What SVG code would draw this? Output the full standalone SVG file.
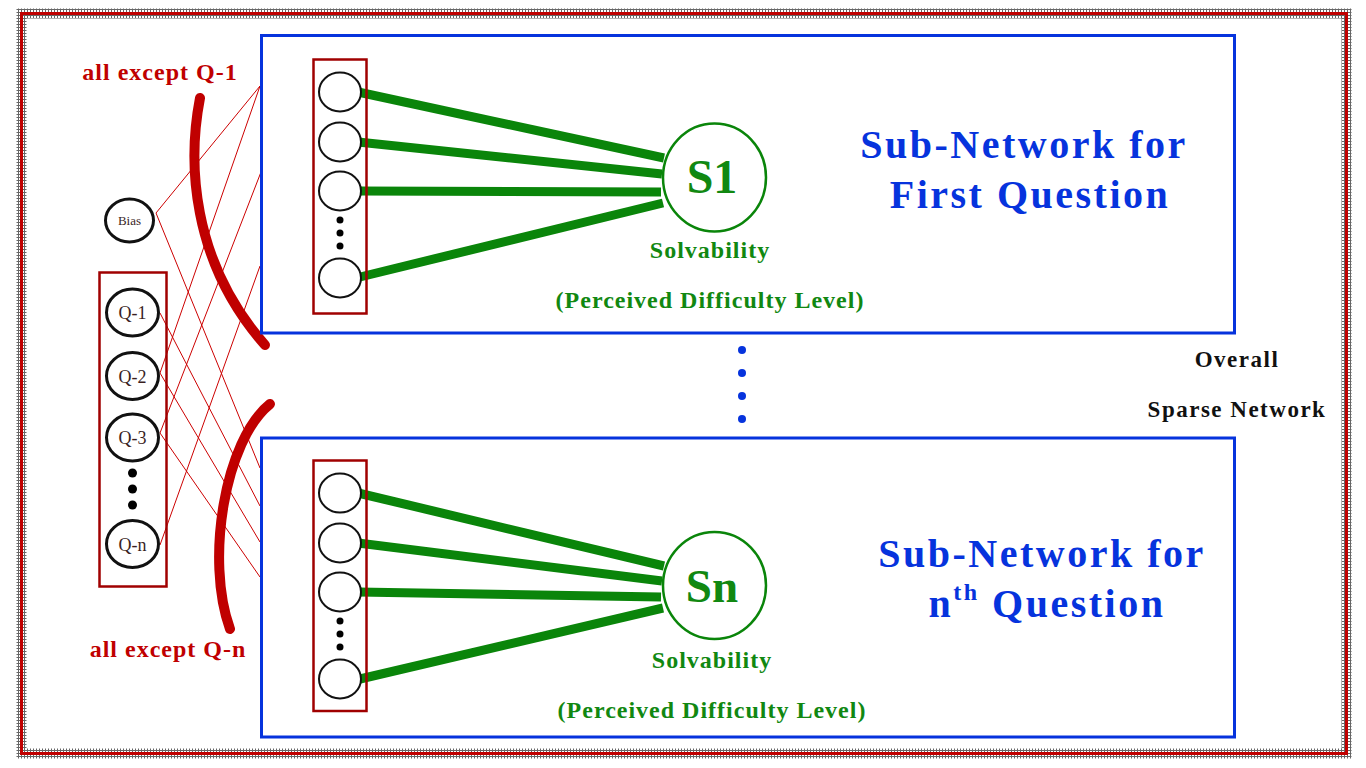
<svg xmlns="http://www.w3.org/2000/svg" width="1366" height="768" viewBox="0 0 1366 768">
<style>
.serif{font-family:"Liberation Serif","Times New Roman",serif;}
.bold{font-weight:bold;}
.blue{fill:#0633dd;}
.gtxt{fill:#118811;font-size:24px;letter-spacing:1px;}
.rtxt{fill:#c00000;font-size:24px;letter-spacing:1px;}
.ktxt{fill:#111;font-size:23px;letter-spacing:1.5px;}
.subbox{fill:none;stroke:#0633dd;stroke-width:3;}
.inbox{fill:none;stroke:#a00000;stroke-width:2.5;}
.neuron{fill:#fff;stroke:#111;stroke-width:2;}
.qnode{fill:#fff;stroke:#111;stroke-width:3;}
.green{stroke:#0a850a;stroke-width:9;fill:none;}
.thin{stroke:#cc0000;stroke-width:1;fill:none;}
.arc{stroke:#c00000;stroke-width:10;fill:none;stroke-linecap:round;}
.dot{fill:#000;}
.qlabel{fill:#3a1f1f;font-size:18px;}
</style>
<defs>
<pattern id="hatch" width="3" height="3" patternUnits="userSpaceOnUse">
<rect width="3" height="3" fill="#fff"/>
<path d="M0,0.5H3M0.5,0V3" stroke="#666" stroke-width="1"/>
</pattern>
</defs>
<rect width="1366" height="768" fill="#fff"/>
<!-- outer border -->
<g id="frame">
<rect x="21.5" y="13.5" width="1325" height="740" fill="none" stroke="url(#hatch)" stroke-width="10"/>
<rect x="21.5" y="13.5" width="1325" height="740" fill="none" stroke="#c00000" stroke-width="3"/>
</g>

<!-- connectors -->
<g id="connectors">
<line class="thin" x1="156" y1="213" x2="260" y2="86"/>
<line class="thin" x1="160" y1="373" x2="260" y2="86"/>
<line class="thin" x1="160" y1="433" x2="261" y2="172"/>
<line class="thin" x1="160" y1="545" x2="260" y2="266"/>
<line class="thin" x1="156" y1="213" x2="260" y2="468"/>
<line class="thin" x1="160" y1="313" x2="260" y2="506"/>
<line class="thin" x1="160" y1="373" x2="260" y2="542"/>
<line class="thin" x1="160" y1="433" x2="260" y2="577"/>
<line class="green" x1="358" y1="92" x2="664" y2="158"/>
<line class="green" x1="358" y1="142" x2="662" y2="174"/>
<line class="green" x1="358" y1="191" x2="661" y2="192"/>
<line class="green" x1="360" y1="277" x2="663" y2="203"/>
<line class="green" x1="358" y1="493" x2="664" y2="566"/>
<line class="green" x1="358" y1="543" x2="662" y2="581"/>
<line class="green" x1="358" y1="592" x2="661" y2="597"/>
<line class="green" x1="360" y1="679" x2="663" y2="608"/>
</g>

<g id="arcs">
<path class="arc" d="M200,98 C188,160 190,260 265,345"/>
<path class="arc" d="M270,404 C225,440 205,560 230,629"/>
<text class="serif bold rtxt" x="160" y="80" text-anchor="middle">all except Q-1</text>
<text class="serif bold rtxt" x="168" y="657" text-anchor="middle">all except Q-n</text>
</g>

<g id="bias">
<ellipse class="qnode" cx="129.5" cy="220.5" rx="24" ry="21.5"/>
<text class="serif" x="129.5" y="225" text-anchor="middle" font-size="13" fill="#3a1f1f">Bias</text>
</g>
<g id="inputs">
<rect class="inbox" x="99.5" y="272.5" width="67" height="314" stroke-width="3"/>
<ellipse class="qnode" cx="132.5" cy="312.5" rx="26" ry="23.5"/>
<text class="serif qlabel" x="132.5" y="319" text-anchor="middle">Q-1</text>
<ellipse class="qnode" cx="132.5" cy="376" rx="26" ry="23.5"/>
<text class="serif qlabel" x="132.5" y="382.5" text-anchor="middle">Q-2</text>
<ellipse class="qnode" cx="132.5" cy="437.5" rx="26" ry="23.5"/>
<text class="serif qlabel" x="132.5" y="444" text-anchor="middle">Q-3</text>
<circle class="dot" cx="132.5" cy="473" r="4.5"/>
<circle class="dot" cx="132.5" cy="489" r="4.5"/>
<circle class="dot" cx="132.5" cy="505" r="4.5"/>
<ellipse class="qnode" cx="132.5" cy="544" rx="26" ry="23.5"/>
<text class="serif qlabel" x="132.5" y="550.5" text-anchor="middle">Q-n</text>
</g>

<g id="subnet1">
<rect class="subbox" x="261.5" y="35.5" width="973" height="297.5"/>
<rect class="inbox" x="313.5" y="59.5" width="53" height="254"/>
<ellipse class="neuron" cx="340" cy="92" rx="21" ry="19.5"/>
<ellipse class="neuron" cx="340" cy="142" rx="21" ry="19.5"/>
<ellipse class="neuron" cx="340" cy="191" rx="21" ry="19.5"/>
<circle class="dot" cx="340" cy="220" r="3.5"/>
<circle class="dot" cx="340" cy="233" r="3.5"/>
<circle class="dot" cx="340" cy="246" r="3.5"/>
<ellipse class="neuron" cx="340" cy="278" rx="21" ry="19.5"/>
<text class="serif bold blue" x="1024" y="158" text-anchor="middle" font-size="40" letter-spacing="2.5">Sub-Network for</text>
<text class="serif bold blue" x="1030" y="208" text-anchor="middle" font-size="40" letter-spacing="2.5">First Question</text>
</g>
<g id="S1">
<ellipse cx="714.5" cy="177.5" rx="51.5" ry="54" fill="#fff" stroke="#0a850a" stroke-width="2.5"/>
<text class="serif bold" x="712" y="193" text-anchor="middle" font-size="48" fill="#118811">S1</text>
<text class="serif bold gtxt" x="710" y="258" text-anchor="middle">Solvability</text>
<text class="serif bold gtxt" x="710" y="308" text-anchor="middle">(Perceived Difficulty Level)</text>
</g>

<g id="between">
<circle cx="742" cy="350" r="4" fill="#0633dd"/>
<circle cx="742" cy="373" r="4" fill="#0633dd"/>
<circle cx="742" cy="396" r="4" fill="#0633dd"/>
<circle cx="742" cy="419" r="4" fill="#0633dd"/>
</g>

<g id="subnetn">
<rect class="subbox" x="261.5" y="438" width="973" height="299"/>
<rect class="inbox" x="313.5" y="460.5" width="53" height="250.5"/>
<ellipse class="neuron" cx="340" cy="493" rx="21" ry="19.5"/>
<ellipse class="neuron" cx="340" cy="543" rx="21" ry="19.5"/>
<ellipse class="neuron" cx="340" cy="592" rx="21" ry="19.5"/>
<circle class="dot" cx="340" cy="621" r="3.5"/>
<circle class="dot" cx="340" cy="634" r="3.5"/>
<circle class="dot" cx="340" cy="647" r="3.5"/>
<ellipse class="neuron" cx="340" cy="679" rx="21" ry="19.5"/>
<text class="serif bold blue" x="1042" y="567" text-anchor="middle" font-size="40" letter-spacing="2.5">Sub-Network for</text>
<text class="serif bold blue" x="1047" y="617" text-anchor="middle" font-size="40" letter-spacing="2.5">n<tspan font-size="24" dy="-17">th</tspan><tspan dy="17"> Question</tspan></text>
</g>
<g id="Sn">
<ellipse cx="714.5" cy="585.5" rx="51.5" ry="53.5" fill="#fff" stroke="#0a850a" stroke-width="2.5"/>
<text class="serif bold" x="712" y="602" text-anchor="middle" font-size="47" fill="#118811">Sn</text>
<text class="serif bold gtxt" x="712" y="668" text-anchor="middle">Solvability</text>
<text class="serif bold gtxt" x="712" y="718" text-anchor="middle">(Perceived Difficulty Level)</text>
</g>

<g id="overall">
<text class="serif bold ktxt" x="1237" y="367" text-anchor="middle">Overall</text>
<text class="serif bold ktxt" x="1237" y="417" text-anchor="middle">Sparse Network</text>
</g>
</svg>
